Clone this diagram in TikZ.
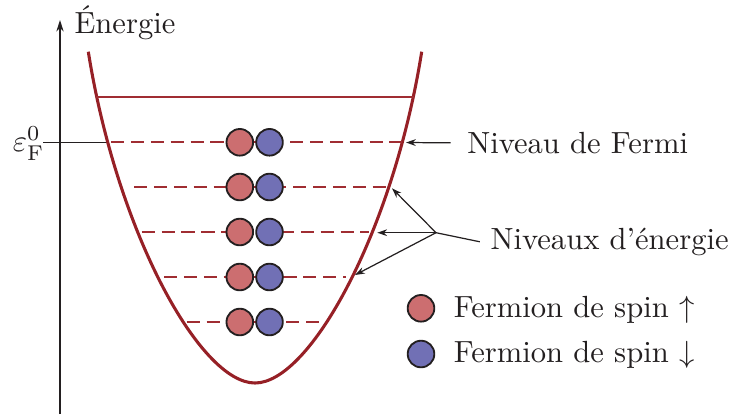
\documentclass[tikz,border=0pt]{standalone}
\usetikzlibrary{arrows.meta}
\definecolor{wellred}{RGB}{150,32,38}
\definecolor{levred}{RGB}{160,45,50}
\definecolor{upred}{RGB}{204,110,112}
\definecolor{downblue}{RGB}{113,112,181}
\definecolor{inkgray}{RGB}{35,31,32}
\tikzset{
  well/.style={wellred, line width=1pt},
  toplevel/.style={levred, line width=0.6pt},
  level/.style={levred, line width=0.6pt, dash pattern=on 4.3pt off 2.2pt},
  upball/.style={circle, draw=inkgray, line width=0.6pt, fill=upred, minimum size=8.7pt, inner sep=0pt},
  downball/.style={circle, draw=inkgray, line width=0.6pt, fill=downblue, minimum size=8.7pt, inner sep=0pt},
  axisline/.style={inkgray, line width=0.4pt, -{Stealth[length=3.8pt,width=2.4pt]}},
  pointer/.style={inkgray, line width=0.4pt, -{Stealth[length=3.2pt,width=2.2pt]}},
  plain/.style={inkgray, line width=0.4pt},
  txt/.style={text=inkgray, anchor=base west}
}
\begin{document}
\begin{tikzpicture}[x=0.3268pt, y=-0.3268pt]
\useasboundingbox (0,0) rectangle (734,414);
% axis
\coordinate (axb) at (60,414);
\coordinate (axt) at (60,20);
\draw[axisline] (axb) -- (axt);
\node[txt, inner sep=0pt] (elabel) at (74,33.3) {Énergie};
% Fermi tick
\coordinate (tick) at (43.3,142.3);
\coordinate (wellF) at (107,142.3);
\draw[plain] (tick) -- (wellF);
\node[inner sep=0pt, anchor=base east, text=inkgray] (eps) at (45,151.7) {$\varepsilon_{\mathrm{F}}^{0}$};
% well
\coordinate (wl) at (88.3,51.7);
\coordinate (wb) at (255,383);
\coordinate (wr) at (421.7,51.7);
\draw[well] (wl) .. controls (116.9,231.7) and (200,383) .. (wb)
                 .. controls (310,383) and (393.1,231.7) .. (wr);
% top level
\coordinate (t1) at (96,97);
\coordinate (t2) at (414.3,97);
\draw[toplevel] (t1) -- (t2);
% dashed levels
\coordinate (a1) at (111,142.3); \coordinate (b1) at (402,142.3);
\coordinate (a2) at (134,187);   \coordinate (b2) at (389,187);
\coordinate (a3) at (141.7,232); \coordinate (b3) at (369,232);
\coordinate (a4) at (164,277);   \coordinate (b4) at (346,277);
\coordinate (a5) at (186.7,322); \coordinate (b5) at (323,322);
\draw[level] (a1) -- (b1);
\draw[level] (a2) -- (b2);
\draw[level] (a3) -- (b3);
\draw[level] (a4) -- (b4);
\draw[level] (a5) -- (b5);
% fermions
\foreach \y [count=\i] in {142.3,187,232,277,322}{
  \node[upball] (u\i) at (239.8,\y) {};
  \node[downball] (d\i) at (269.5,\y) {};
}
% labels and pointers
\node[txt] (fermi) at (456.5,153.3) {Niveau de Fermi};
\coordinate (f0) at (406,142.5);
\draw[pointer] (fermi.west) ++(-6,0) coordinate (fs) (fs) -- (f0);
\node[txt] (levels) at (479.8,249.3) {Niveaux d’énergie};
\coordinate (j) at (436,232.7);
\coordinate (l1) at (392,188.3);
\coordinate (l2) at (377.3,232.7);
\coordinate (l3) at (355,275);
\draw[plain] (levels.west) -- (j);
\draw[pointer] (j) -- (l1);
\draw[pointer] (j) -- (l2);
\draw[pointer] (j) -- (l3);
% legend
\node[upball] (lu) at (421,308.3) {};
\node[downball] (ld) at (421,354) {};
\node[txt, inner sep=0pt] (lut) at (453.3,317.3) {Fermion de spin $\uparrow$};
\node[txt, inner sep=0pt] (ldt) at (453.3,362.7) {Fermion de spin $\downarrow$};
\end{tikzpicture}
\end{document}
